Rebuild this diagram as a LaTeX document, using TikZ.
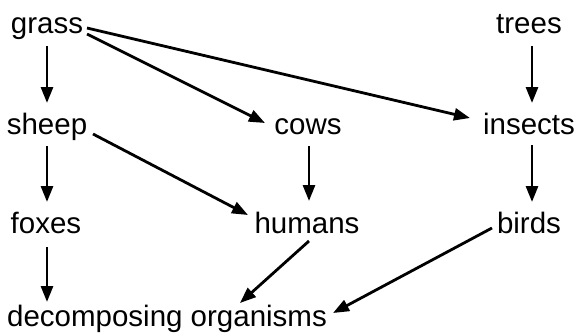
\documentclass[tikz,border=0pt]{standalone}
\usepackage{fontspec}
\setmainfont{Liberation Sans}
\usetikzlibrary{arrows.meta,calc}
\begin{document}
\begin{tikzpicture}[x=1pt,y=-1pt,
  lbl/.style={anchor=base,inner sep=0pt,font=\fontsize{29.5}{34}\selectfont},
  arr/.style={line width=2.8pt,-{Triangle[length=16pt,width=12pt]}}]
\useasboundingbox (0,0) rectangle (576,333);
\node[lbl] (grass) at (47,33) {grass};
\node[lbl] (trees) at (529,33) {trees};
\node[lbl] (sheep) at (47,134) {sheep};
\node[lbl] (cows) at (308,134) {cows};
\node[lbl] (insects) at (529,134) {insects};
\node[lbl] (foxes) at (46,233) {foxes};
\node[lbl] (humans) at (307,233) {humans};
\node[lbl] (birds) at (529,233) {birds};
\node[lbl] (decomp) at (167,326) {decomposing organisms};
% vertical
\draw[arr] ($(grass.base)+(0,13)$) -- ($(sheep.base)+(0,-31)$);
\draw[arr] ($(sheep.base)+(0,12)$) -- ($(foxes.base)+(1,-31)$);
\draw[arr] ($(foxes.base)+(1,14)$) -- ($(decomp.base)+(-120,-24)$);
\draw[arr] ($(trees.base)+(3,13)$) -- ($(insects.base)+(3,-31)$);
\draw[arr] ($(insects.base)+(3,11)$) -- ($(birds.base)+(3,-31)$);
\draw[arr] ($(cows.base)+(1,12)$) -- ($(humans.base)+(2,-32)$);
% diagonal
\draw[arr] ($(grass.base)+(40,1)$) -- ($(cows.base)+(-43,-11)$);
\draw[arr] ($(grass.base)+(40,-5)$) -- ($(insects.base)+(-59,-16)$);
\draw[arr] ($(sheep.base)+(46,0)$) -- ($(humans.base)+(-59,-18)$);
\draw[arr] ($(humans.base)+(2,8)$) -- ($(decomp.base)+(73,-23)$);
\draw[arr] ($(birds.base)+(-37,-5)$) -- ($(decomp.base)+(166,-13)$);
\end{tikzpicture}
\end{document}
